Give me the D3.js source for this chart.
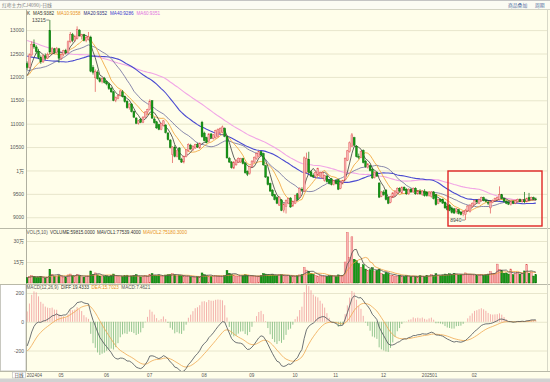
<!DOCTYPE html>
<html><head><meta charset="utf-8">
<script src="https://cdn.jsdelivr.net/npm/d3@7/dist/d3.min.js"></script>
<style>
html,body{margin:0;padding:0;background:#fffeea;}
svg{display:block;font-family:"Liberation Sans",Arial,sans-serif;}
</style></head><body>
<svg id="chart" width="550" height="382"></svg>
<script>
// ---------------- DATA ----------------
const opens = [
12280,12200,12470,12700,12640,12540,12420,12320,12450,12400,
12990,12530,12600,12520,12600,12400,12480,12560,12520,12750,
12900,12780,12820,13000,12860,12900,12780,12800,12850,12200,
11980,12100,11960,11900,11970,11900,11850,11760,11680,11500,
11540,11600,11680,11580,11480,11340,11420,11260,11120,11010,
11090,11030,11140,11250,11300,11490,11100,11040,10980,10880,
10960,10970,10800,10650,10340,10500,10300,10480,10240,10180,
10300,10430,10540,10440,10480,10560,10480,11030,10800,10700,
10620,10780,10680,10700,10720,10800,10820,10900,10720,10260,
10180,10050,10120,10180,10180,10250,10160,9980,9930,10080,
10180,10250,10300,10400,10360,10100,9860,9720,9580,9480,
9420,9260,9370,9150,9230,9300,9410,9240,9300,9500,
9430,9600,9560,9960,10240,9970,9900,9870,9900,9880,
9840,9790,9880,9800,9820,9700,9780,9800,9620,9740,
9800,10220,10400,10520,10700,10520,10300,10280,10430,10200,
10060,10100,10020,9850,9950,9730,9450,9540,9580,9420,
9320,9430,9460,9520,9620,9520,9640,9600,9500,9600,
9540,9620,9500,9560,9480,9560,9540,9460,9440,9540,
9480,9300,9380,9380,9320,9240,9260,9200,9180,9120,
9160,9110,9080,9060,9140,9120,9230,9270,9360,9300,
9350,9420,9360,9320,9200,9320,9360,9380,9380,9480,
9400,9340,9320,9270,9340,9300,9340,9380,9330,9380,
9330,9420,9380,9420,9390];
const highs = [
12330,12500,12760,12800,12680,12600,12460,12480,12500,12520,
13215,12640,12620,12640,12620,12500,12580,12600,12780,12960,
12940,12900,13080,13020,12920,12920,12870,12960,12880,12250,
12160,12140,12000,11990,12000,11920,11880,11780,11700,11580,
11620,11720,11720,11600,11500,11440,11440,11280,11140,11080,
11120,11160,11270,11320,11520,11500,11140,11060,11000,11020,
11080,10990,10820,10670,10520,10540,10440,10500,10270,10320,
10460,10580,10570,10540,10570,10590,10600,11060,10830,10720,
10800,10800,10780,10870,10900,10920,10960,10920,10740,10290,
10200,10200,10240,10280,10270,10270,10180,10000,10100,10220,
10300,10380,10420,10420,10380,10120,9880,9740,9600,9500,
9450,9450,9390,9300,9380,9420,9430,9360,9480,9520,
9640,9640,10300,10380,10400,10000,9940,9980,10060,9980,
9980,9910,9900,9820,9840,9800,9800,9820,9760,9800,
10280,10440,10620,10800,10720,10540,10360,10420,10450,10220,
10160,10120,10060,9980,9980,9750,9560,9580,9600,9440,
9460,9540,9580,9640,9640,9660,9660,9620,9620,9620,
9640,9640,9580,9600,9580,9600,9560,9560,9560,9560,
9500,9400,9400,9400,9340,9260,9280,9230,9200,9200,
9180,9130,9140,9180,9260,9280,9320,9380,9380,9400,
9440,9440,9400,9360,9340,9380,9420,9440,9660,9500,
9420,9360,9340,9350,9360,9370,9400,9400,9390,9540,
9420,9520,9440,9440,9420];
const lows = [
12150,12180,12440,12600,12500,12380,12280,12300,12360,12380,
12480,12480,12500,12500,12300,12360,12440,12480,12500,12720,
12740,12750,12800,12860,12800,12760,12740,12780,12100,12050,
11680,11940,11880,11860,11860,11820,11720,11660,11480,11460,
11520,11580,11560,11450,11320,11300,11240,11120,10990,10980,
11010,11010,11120,11200,11280,11100,11000,10890,10860,10860,
10940,10790,10640,10470,10160,10280,10280,10220,10160,10150,
10280,10400,10440,10420,10460,10480,10460,10700,10620,10580,
10600,10680,10660,10680,10700,10780,10800,10710,10250,10160,
10040,10030,10100,10160,10160,10130,9930,9880,9910,10060,
10160,10230,10280,10310,10100,9840,9680,9540,9440,9360,
9280,9240,9130,9100,9080,9280,9200,9220,9280,9360,
9410,9540,9540,9940,9940,9860,9840,9850,9880,9850,
9820,9760,9740,9700,9680,9680,9700,9580,9600,9700,
9780,10200,10380,10500,10520,10280,10240,10260,10150,10060,
10040,9980,9820,9830,9860,9410,9430,9460,9360,9280,
9300,9410,9440,9500,9540,9500,9560,9480,9480,9520,
9520,9480,9480,9480,9460,9440,9440,9440,9420,9380,
9250,9280,9320,9290,9180,9140,9130,9080,9070,9080,
9060,9040,9020,8940,9120,9100,9200,9260,9300,9280,
9330,9340,9320,9260,9080,9300,9340,9370,9360,9380,
9320,9280,9260,9250,9280,9280,9320,9320,9310,9300,
9320,9360,9370,9370,9360];
const closes = [
12200,12470,12700,12640,12540,12420,12320,12450,12400,12480,
12530,12600,12520,12610,12400,12480,12560,12520,12750,12900,
12780,12870,13020,12880,12900,12780,12840,12860,12120,12100,
12120,11960,11900,11960,11880,11850,11750,11680,11500,11560,
11600,11700,11580,11470,11340,11420,11260,11140,11010,11060,
11030,11140,11250,11300,11480,11120,11020,10910,10880,11000,
11060,10810,10660,10490,10500,10300,10420,10240,10180,10300,
10440,10560,10460,10520,10550,10500,10580,10720,10640,10600,
10780,10700,10760,10850,10880,10900,10930,10730,10270,10180,
10060,10180,10220,10260,10250,10150,9950,9920,10080,10200,
10280,10360,10400,10330,10120,9860,9700,9560,9460,9380,
9300,9430,9150,9280,9360,9400,9220,9340,9460,9380,
9620,9580,10270,10250,9960,9880,9860,9960,10040,9950,
9960,9890,9760,9720,9700,9780,9720,9600,9740,9780,
10260,10420,10590,10760,10540,10300,10280,10400,10170,10080,
10140,10000,9840,9960,9880,9430,9540,9480,9380,9300,
9440,9520,9560,9620,9560,9640,9580,9500,9600,9540,
9620,9500,9560,9500,9560,9460,9460,9540,9540,9400,
9270,9380,9340,9300,9200,9160,9150,9100,9090,9180,
9080,9060,9120,9150,9240,9260,9300,9360,9330,9380,
9420,9360,9340,9300,9320,9360,9400,9420,9480,9400,
9340,9300,9280,9330,9300,9350,9380,9340,9370,9330,
9400,9380,9420,9390,9380];
const volumes = [
38000,45000,52000,48000,40000,42000,46000,38000,35000,41000,
98000,62000,48000,45000,55000,50000,42000,40000,58000,64000,
52000,47000,60000,55000,44000,42000,46000,50000,86000,62000,
72000,58000,50000,45000,48000,52000,47000,55000,64000,50000,
46000,44000,48000,52000,56000,45000,50000,55000,60000,48000,
44000,46000,52000,50000,62000,68000,55000,52000,58000,48000,
46000,57000,60000,62000,66000,58000,50000,56000,52000,48000,
45000,50000,44000,42000,40000,46000,44000,72000,60000,54000,
50000,48000,46000,52000,50000,48000,46000,54000,90000,70000,
62000,56000,50000,48000,46000,52000,60000,55000,50000,47000,
45000,48000,50000,55000,68000,64000,60000,58000,62000,55000,
52000,58000,60000,54000,50000,52000,48000,50000,46000,52000,
58000,60000,110000,92000,85000,70000,62000,55000,50000,52000,
48000,50000,47000,52000,55000,50000,46000,58000,54000,52000,
150000,360000,180000,330000,170000,160000,140000,110000,130000,100000,
90000,95000,110000,80000,90000,100000,70000,62000,75000,68000,
55000,52000,50000,48000,56000,50000,46000,52000,48000,45000,
50000,47000,44000,52000,48000,46000,55000,50000,60000,52000,
66000,56000,52000,58000,64000,60000,66000,62000,70000,64000,
58000,62000,56000,72000,64000,60000,58000,55000,52000,58000,
62000,56000,60000,64000,80000,70000,66000,135000,98000,88000,
70000,72000,64000,100000,60000,68000,76000,64000,70000,86103,
130000,70000,78000,49882,59815];
// closes before the visible window (estimated), used only to warm up MA / MACD
const priorCloses = [
13380,13450,13520,13480,13600,13550,13420,13500,13460,13380,
13520,13440,13400,13480,13350,13420,13500,13380,13300,13360,
13200,13100,13050,12950,12900,13000,12850,12800,12880,12750,
12700,12820,12680,12600,12720,12650,12580,12700,12600,12500,
12450,12380,12400,12300,12250,12320,12200,12150,12200,12100,
12050,12120,12000,12060,11980,11950,12020,11900,11980,12050];

const priceTicks = [13000,12500,12000,11500,11000,10500,10000,9500,9000];
const priceTickLabels = ["13000","12500","12000","11500","11000","10500","1万","9500","9000"];
const volTicks = [300000,150000];
const volTickLabels = ["30万","15万"];
const macdTicks = [200,0,-200];
const macdTickLabels = ["200","0","-200"];
const monthLabels = ["202404","05","06","07","08","09","10","11","12","202501","02"];
const monthStarts = [0,14,34,53,77,98,117,135,156,174,196];
const maPeriods = [5,10,20,40,60];
const maLegend = ["MA5:9382","MA10:9358","MA20:9352","MA40:9286","MA60:9351"];
const volLegend = ["VOL(5,10)","VOLUME:59815.0000","MAVOL1:77539.4000","MAVOL2:75180.3000"];
const macdLegend = ["MACD(12,26,9)","DIFF:19.4333","DEA:15.7023","MACD:7.4621"];
const titleText = "红枣主力(CJ4090)-日线";
const topRight = ["商品叠加","周期"];
const highNote = "13215", lowNote = "8940";

// ---------------- STYLE ----------------
const BG = "#fffeea", GRID = "#e8e6cc", SEP = "#b9b9a8", AXT = "#555";
const maColors = ["#3c3c3c","#f0a030","#6a6a9a","#4a4ad0","#f2a6e6"];
const maLegendColors = ["#333","#e8901a","#2f2f80","#3a3ad0","#e070e0"];
const UP_FILL = "#f7b4b4", UP_STROKE = "#e05050", DN_FILL = "#159a15", DN_STROKE = "#0a6a0a";

const svg = d3.select("#chart");
const N = closes.length;
const X0 = 26, X1 = 547;
svg.append("rect").attr("width",550).attr("height",382).attr("fill",BG);
// title bar
svg.append("rect").attr("x",0).attr("y",0).attr("width",550).attr("height",9.5).attr("fill","#fbfbf3");
svg.append("line").attr("x1",0).attr("x2",550).attr("y1",0.5).attr("y2",0.5).attr("stroke","#c4c4c4");
svg.append("line").attr("x1",0).attr("x2",550).attr("y1",9.5).attr("y2",9.5).attr("stroke","#d4d4c4");
svg.append("text").attr("x",2).attr("y",7).attr("font-size",4.8).attr("fill","#777").attr("font-family","Noto Sans CJK SC").text(titleText);
svg.append("text").attr("x",508).attr("y",7).attr("font-size",4.8).attr("fill","#4a6aa0").attr("font-family","Noto Sans CJK SC").text(topRight[0]);
svg.append("text").attr("x",535).attr("y",7).attr("font-size",4.8).attr("fill","#4a6aa0").attr("font-family","Noto Sans CJK SC").text(topRight[1]);

const x = d3.scaleBand().domain(d3.range(N)).range([X0, 537]).paddingInner(0.18).paddingOuter(0.1);
const bw = x.bandwidth();
const cx = i => x(i) + bw/2;
const yP = d3.scaleLinear().domain([8770,13430]).range([228,10]);
const yV = d3.scaleLinear().domain([0,150000]).range([283,262]);
const yM = d3.scaleLinear().domain([-200,200]).range([350.5,293]);

// clip paths
const defs = svg.append("defs");
[["cp",10,228],["cv",229,284],["cm",285,371]].forEach(([id,t,b])=>{
  defs.append("clipPath").attr("id",id).append("rect").attr("x",X0).attr("y",t).attr("width",X1-X0).attr("height",b-t);
});

// grid + axes
function gridAxis(scale, ticks, labels){
  const g = svg.append("g").attr("transform",`translate(${X0+0.5},0)`)
    .call(d3.axisLeft(scale).tickValues(ticks).tickSize(-(X1-X0)).tickPadding(2.5).tickFormat((d,i)=>labels[i]));
  g.select(".domain").remove();
  g.selectAll(".tick line").attr("stroke",GRID).attr("stroke-width",1);
  g.selectAll(".tick text").attr("font-size",5).attr("fill",AXT).attr("font-family","Liberation Sans, Noto Sans CJK SC");
  return g;
}
// MACD left box
svg.append("rect").attr("x",0.5).attr("y",284.5).attr("width",X0-0.5).attr("height",86.5).attr("fill","#ffffff").attr("stroke","#c8c8c0");
gridAxis(yP, priceTicks, priceTickLabels);
gridAxis(yV, volTicks, volTickLabels);
gridAxis(yM, macdTicks, macdTickLabels);

// separators
[228.5,284.5].forEach(y=>svg.append("line").attr("x1",0).attr("x2",550).attr("y1",y).attr("y2",y).attr("stroke",SEP));
svg.append("line").attr("x1",X0+0.5).attr("x2",X0+0.5).attr("y1",9.5).attr("y2",371.5).attr("stroke","#b0b0a0");
svg.append("line").attr("x1",X1+0.5).attr("x2",X1+0.5).attr("y1",9.5).attr("y2",371.5).attr("stroke","#d8d8c8");
svg.append("line").attr("x1",0).attr("x2",550).attr("y1",371.5).attr("y2",371.5).attr("stroke",SEP);

// ---------------- indicators ----------------
const all = priorCloses.concat(closes);
const P = priorCloses.length;
function ma(arr, n, off){ return d3.range(arr.length-off).map(i=>{const e=i+off+1, s=Math.max(0,e-n); return d3.mean(arr.slice(s,e));}); }
function ema(arr,n){const k=2/(n+1);let e=arr[0];return arr.map((v,i)=> e = i===0? v : v*k + e*(1-k));}
const maSeries = maPeriods.map(n=>ma(all,n,P));
const e12 = ema(all,12), e26 = ema(all,26);
const diffAll = e12.map((v,i)=>v-e26[i]);
const deaAll = ema(diffAll,9);
const diff = diffAll.slice(P), dea = deaAll.slice(P);
const hist = diff.map((v,i)=>2*(v-dea[i]));
const mavol1 = ma(volumes,5,0), mavol2 = ma(volumes,10,0);

// ---------------- price pane ----------------
const gp = svg.append("g").attr("clip-path","url(#cp)");
const lineP = d3.line().x((d,i)=>cx(i)).y(d=>yP(d));
maSeries.slice().reverse().forEach((s,k)=>{
  const idx = maSeries.length-1-k;
  gp.append("path").attr("d",lineP(s)).attr("fill","none").attr("stroke",maColors[idx]).attr("stroke-width", idx>=3?1.1:0.8);
});
const cg = gp.selectAll("g.c").data(d3.range(N)).join("g");
cg.append("line").attr("x1",cx).attr("x2",cx).attr("y1",i=>yP(highs[i])).attr("y2",i=>yP(lows[i]))
  .attr("stroke",i=>closes[i]>=opens[i]?UP_STROKE:DN_STROKE).attr("stroke-width",0.7);
cg.append("rect").attr("x",i=>x(i)).attr("width",bw)
  .attr("y",i=>yP(Math.max(opens[i],closes[i])))
  .attr("height",i=>Math.max(0.8,Math.abs(yP(opens[i])-yP(closes[i]))))
  .attr("fill",i=>closes[i]>=opens[i]?UP_FILL:DN_FILL)
  .attr("stroke",i=>closes[i]>=opens[i]?UP_STROKE:DN_STROKE).attr("stroke-width",0.4);

// high / low notes
const hi = d3.maxIndex(highs), lo = d3.minIndex(lows);
svg.append("text").attr("x",cx(hi)-4).attr("y",yP(highs[hi])+1.8).attr("text-anchor","end").attr("font-size",5).attr("fill","#444").text(highNote);
svg.append("line").attr("x1",cx(hi)-3.6).attr("x2",cx(hi)-0.5).attr("y1",yP(highs[hi])).attr("y2",yP(highs[hi])).attr("stroke","#444").attr("stroke-width",0.6);
svg.append("text").attr("x",cx(lo)-4).attr("y",yP(lows[lo])+1.8).attr("text-anchor","end").attr("font-size",5).attr("fill","#444").text(lowNote);
svg.append("line").attr("x1",cx(lo)-3.6).attr("x2",cx(lo)-0.5).attr("y1",yP(lows[lo])).attr("y2",yP(lows[lo])).attr("stroke","#444").attr("stroke-width",0.6);

// sequential legend helper (no overlaps)
function legendRow(items, colors, x0, y, size, gap){
  let cur = x0;
  items.forEach((t,k)=>{
    const el = svg.append("text").attr("x",cur).attr("y",y).attr("font-size",size).attr("fill",colors[k]).text(t);
    cur += el.node().getComputedTextLength() + gap;
  });
}
legendRow(["K"].concat(maLegend), ["#222"].concat(maLegendColors), 27, 15, 4.6, 3);

// red highlight box
svg.append("rect").attr("x",448).attr("y",171).attr("width",94).attr("height",55).attr("fill","none").attr("stroke","#e02424").attr("stroke-width",1.4);

// ---------------- volume pane ----------------
const gv = svg.append("g").attr("clip-path","url(#cv)");
gv.selectAll("rect.v").data(d3.range(N)).join("rect")
  .attr("x",i=>x(i)).attr("width",bw)
  .attr("y",i=>yV(volumes[i])).attr("height",i=>yV(0)-yV(volumes[i]))
  .attr("fill",i=>closes[i]>=opens[i]?UP_FILL:DN_FILL)
  .attr("stroke",i=>closes[i]>=opens[i]?UP_STROKE:DN_STROKE).attr("stroke-width",0.4);
const lineV = d3.line().x((d,i)=>cx(i)).y(d=>yV(d));
gv.append("path").attr("d",lineV(mavol2)).attr("fill","none").attr("stroke","#f0a040").attr("stroke-width",0.8);
gv.append("path").attr("d",lineV(mavol1)).attr("fill","none").attr("stroke","#505050").attr("stroke-width",0.8);
legendRow(volLegend, ["#555","#333","#333","#e8901a"], 26.5, 234, 4.6, 2.2);

// ---------------- MACD pane ----------------
const gm = svg.append("g").attr("clip-path","url(#cm)");
gm.selectAll("line.h").data(d3.range(N)).join("line")
  .attr("x1",cx).attr("x2",cx).attr("y1",yM(0)).attr("y2",i=>yM(hist[i]))
  .attr("stroke",i=>hist[i]>=0?"#f09a9a":"#79b879").attr("stroke-width",0.8);
const lineM = d3.line().x((d,i)=>cx(i)).y(d=>yM(d));
gm.append("path").attr("d",lineM(dea)).attr("fill","none").attr("stroke","#f0a850").attr("stroke-width",0.8);
gm.append("path").attr("d",lineM(diff)).attr("fill","none").attr("stroke","#4a5058").attr("stroke-width",0.8);
legendRow(macdLegend, ["#555","#333","#e8901a","#555"], 26.5, 288.5, 4.6, 2.5);

// ---------------- x axis ----------------
svg.append("rect").attr("x",12.5).attr("y",372).attr("width",13).attr("height",6).attr("fill","#fff").attr("stroke","#bbb").attr("stroke-width",0.6);
svg.append("text").attr("x",19).attr("y",377).attr("text-anchor","middle").attr("font-size",4.5).attr("fill","#444").attr("font-family","Noto Sans CJK SC").text("日线");
monthLabels.forEach((t,k)=>svg.append("text").attr("x",x(monthStarts[k])+0.5).attr("y",377).attr("font-size",4.6).attr("fill","#555").text(t));
svg.append("rect").attr("x",0).attr("y",378.5).attr("width",550).attr("height",4).attr("fill","#d2d2d2");
</script>
</body></html>
